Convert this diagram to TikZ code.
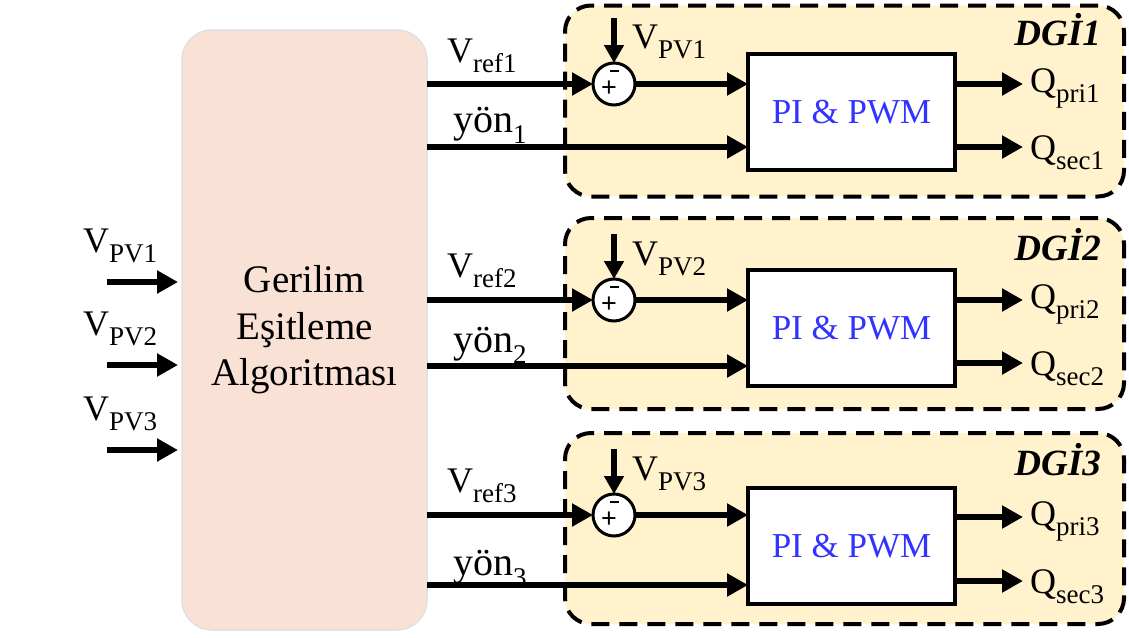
\documentclass[tikz,border=0pt]{standalone}
\usepackage{fontspec}
\setmainfont{Liberation Serif}
\newfontfamily\sgnfont{Liberation Sans}
\usetikzlibrary{arrows.meta}
\definecolor{peach}{RGB}{249,226,213}
\definecolor{dgfill}{RGB}{255,242,204}
\definecolor{piblue}{RGB}{51,51,255}
\newcommand{\lbl}[2]{#1\raisebox{-10pt}{\fontsize{27}{27}\selectfont #2}}
\begin{document}
\begin{tikzpicture}[x=1pt,y=-1pt,
  sig/.style={line width=6.5pt,-{Triangle[length=21pt,width=22pt]}},
  vsig/.style={line width=5.5pt,-{Triangle[length=18pt,width=19pt]}},
  algbox/.style={draw=black!12,line width=1.5pt,fill=peach,rounded corners=30pt,
     minimum width=245pt,minimum height=600pt,outer sep=0pt,align=center,
     font=\fontsize{39}{46.5}\selectfont},
  dgbox/.style={draw,line width=4pt,fill=dgfill,rounded corners=26pt,
     dash pattern=on 18pt off 10pt,minimum width=559pt,minimum height=191pt},
  pibox/.style={draw,line width=4.5pt,fill=white,minimum width=207pt,minimum height=116pt,
     outer sep=0pt,font=\fontsize{35}{35}\selectfont,text=piblue},
  sumnode/.style={circle,draw,line width=3pt,fill=white,minimum size=42pt,inner sep=0pt,outer sep=0pt},
  sgn/.style={font=\sgnfont\fontsize{27}{27}\selectfont,inner sep=0pt},
  minusbar/.style={line width=2.6pt},
  lab/.style={anchor=base west,inner sep=0pt,font=\fontsize{36}{36}\selectfont},
  dglab/.style={anchor=base east,inner sep=0pt,font=\bfseries\itshape\fontsize{37}{37}\selectfont}]
\useasboundingbox (0,0) rectangle (1129,637);

% main algorithm block
\node[algbox] (alg) at (304.5,330) {Gerilim\\Eşitleme\\Algoritması};

% inputs on the left
\coordinate (in1) at (107,282);
\coordinate (in2) at (107,365);
\coordinate (in3) at (107,450);
\draw[sig,shorten >=4pt] (in1) -- (alg.west |- in1);
\draw[sig,shorten >=4pt] (in2) -- (alg.west |- in2);
\draw[sig,shorten >=4pt] (in3) -- (alg.west |- in3);
\node[lab] (lpv1) at (83,252) {\lbl{V}{PV1}};
\node[lab] (lpv2) at (83,335) {\lbl{V}{PV2}};
\node[lab] (lpv3) at (83,420) {\lbl{V}{PV3}};

% DG boxes
\node[dgbox] (dg1) at (844.5,101) {};
\node[dgbox] (dg2) at (844.5,313.5) {};
\node[dgbox] (dg3) at (844.5,528.5) {};
\node[dglab] (dgl1) at (1101,45) {DGİ1};
\node[dglab] (dgl2) at (1101,260) {DGİ2};
\node[dglab] (dgl3) at (1101,475) {DGİ3};

% PI boxes
\node[pibox] (pi1) at (851.5,112) {PI \& PWM};
\node[pibox] (pi2) at (851.5,328) {PI \& PWM};
\node[pibox] (pi3) at (851.5,546) {PI \& PWM};

% summing junctions
\node[sumnode] (sum1) at (614,84) {};
\node[sumnode] (sum2) at (614,300) {};
\node[sumnode] (sum3) at (614,515) {};
\foreach \s in {sum1,sum2,sum3}{
  \node[sgn] at ([shift={(-5,5)}]\s.center) {+};
  \draw[minusbar] ([shift={(-4.5,-13)}]\s.center) -- ([shift={(4.5,-13)}]\s.center);
}

% V_PV feeds into sums
\coordinate (vp1) at (614,18);
\coordinate (vp2) at (614,234);
\coordinate (vp3) at (614,449);
\draw[vsig] (vp1) -- (sum1.north);
\draw[vsig] (vp2) -- (sum2.north);
\draw[vsig] (vp3) -- (sum3.north);
\node[lab] (lv1) at (632,48) {\lbl{V}{PV1}};
\node[lab] (lv2) at (632,265) {\lbl{V}{PV2}};
\node[lab] (lv3) at (632,480) {\lbl{V}{PV3}};

% V_ref lines
\draw[sig] (alg.east |- sum1) -- (sum1.west);
\draw[sig] (alg.east |- sum2) -- (sum2.west);
\draw[sig] (alg.east |- sum3) -- (sum3.west);
\node[lab] (lr1) at (447,62) {\lbl{V}{ref1}};
\node[lab] (lr2) at (447,277) {\lbl{V}{ref2}};
\node[lab] (lr3) at (447,492) {\lbl{V}{ref3}};

% sum to PI
\draw[sig] (sum1.east) -- (pi1.west |- sum1);
\draw[sig] (sum2.east) -- (pi2.west |- sum2);
\draw[sig] (sum3.east) -- (pi3.west |- sum3);

% yön lines
\coordinate (y1) at (0,147);
\coordinate (y2) at (0,366);
\coordinate (y3) at (0,585);
\draw[sig] (alg.east |- y1) -- (pi1.west |- y1);
\draw[sig] (alg.east |- y2) -- (pi2.west |- y2);
\draw[sig] (alg.east |- y3) -- (pi3.west |- y3);
\node[lab,font=\fontsize{40}{40}\selectfont] (ly1) at (453,132) {yön\raisebox{-11pt}{\fontsize{27}{27}\selectfont 1}};
\node[lab,font=\fontsize{40}{40}\selectfont] (ly2) at (453,352) {yön\raisebox{-11pt}{\fontsize{27}{27}\selectfont 2}};
\node[lab,font=\fontsize{40}{40}\selectfont] (ly3) at (453,575) {yön\raisebox{-11pt}{\fontsize{27}{27}\selectfont 3}};

% outputs
\coordinate (qp1) at (1023,84);
\coordinate (qs1) at (1023,147);
\coordinate (qp2) at (1023,300);
\coordinate (qs2) at (1023,363);
\coordinate (qp3) at (1023,517);
\coordinate (qs3) at (1023,581);
\draw[sig] (pi1.east |- qp1) -- (qp1);
\draw[sig] (pi1.east |- qs1) -- (qs1);
\draw[sig] (pi2.east |- qp2) -- (qp2);
\draw[sig] (pi2.east |- qs2) -- (qs2);
\draw[sig] (pi3.east |- qp3) -- (qp3);
\draw[sig] (pi3.east |- qs3) -- (qs3);
\node[lab] (lqp1) at (1030,92) {\lbl{Q}{pri1}};
\node[lab] (lqs1) at (1030,159) {\lbl{Q}{sec1}};
\node[lab] (lqp2) at (1030,308) {\lbl{Q}{pri2}};
\node[lab] (lqs2) at (1030,375) {\lbl{Q}{sec2}};
\node[lab] (lqp3) at (1030,525) {\lbl{Q}{pri3}};
\node[lab] (lqs3) at (1030,593) {\lbl{Q}{sec3}};
\end{tikzpicture}
\end{document}
